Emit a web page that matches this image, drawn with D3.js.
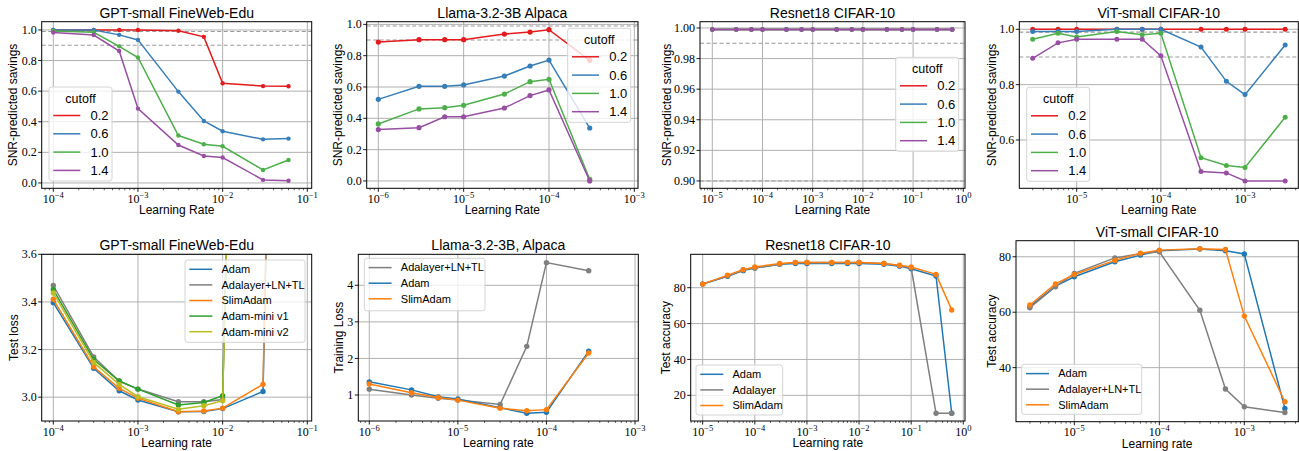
<!DOCTYPE html>
<html>
<head>
<meta charset="utf-8">
<script src="https://cdn.jsdelivr.net/npm/d3@7"></script>
<style>
  body { margin: 0; background: #fff; }
  svg { display: block; }
  .sans { font-family: "Liberation Sans", Arial, sans-serif; }
  .serif { font-family: "Liberation Serif", "Times New Roman", serif; }
</style>
</head>
<body>
<svg id="chart" width="1299" height="451"></svg>
<script>
// ---- data ----
const cutoffs = ["0.2", "0.6", "1.0", "1.4"];
const set1 = ["#e41a1c", "#377eb8", "#4daf4a", "#984ea3"];

const gptLR = [1e-4, 3e-4, 6e-4, 1e-3, 3e-3, 6e-3, 1e-2, 3e-2, 6e-2];
const gptSnr = [
  [1.0, 1.0, 1.0, 1.0, 0.995, 0.955, 0.652, 0.633, 0.632],
  [1.0, 1.0, 0.968, 0.935, 0.597, 0.405, 0.338, 0.285, 0.29],
  [0.993, 0.985, 0.893, 0.82, 0.31, 0.253, 0.24, 0.085, 0.15],
  [0.983, 0.967, 0.862, 0.486, 0.248, 0.176, 0.166, 0.02, 0.014]
];

const llamaLR = [1e-6, 3e-6, 6e-6, 1e-5, 3e-5, 6e-5, 1e-4, 3e-4];
const llamaSnr = [
  [0.887, 0.902, 0.902, 0.902, 0.938, 0.951, 0.966, 0.77],
  [0.521, 0.604, 0.604, 0.613, 0.67, 0.734, 0.772, 0.338],
  [0.364, 0.46, 0.468, 0.483, 0.555, 0.634, 0.649, 0.01],
  [0.328, 0.34, 0.41, 0.41, 0.466, 0.545, 0.581, 0.0]
];

const resnetLR = [1e-5, 3e-5, 6e-5, 1e-4, 3e-4, 6e-4, 1e-3, 3e-3, 6e-3, 1e-2, 3e-2, 6e-2, 1e-1, 3e-1, 6e-1];
const resnetSnr = [
  [0.999, 0.999, 0.999, 0.999, 0.999, 0.999, 0.999, 0.999, 0.999, 0.999, 0.999, 0.999, 0.999, 0.999, 0.999],
  [0.999, 0.999, 0.999, 0.999, 0.999, 0.999, 0.999, 0.999, 0.999, 0.999, 0.999, 0.999, 0.999, 0.999, 0.999],
  [0.999, 0.999, 0.999, 0.999, 0.999, 0.999, 0.999, 0.999, 0.999, 0.999, 0.999, 0.999, 0.999, 0.999, 0.999],
  [0.999, 0.999, 0.999, 0.999, 0.999, 0.999, 0.999, 0.999, 0.999, 0.999, 0.999, 0.999, 0.999, 0.999, 0.999]
];

const vitLR = [3e-6, 6e-6, 1e-5, 3e-5, 6e-5, 1e-4, 3e-4, 6e-4, 1e-3, 3e-3];
const vitSnr = [
  [1.0, 1.0, 1.0, 1.0, 1.0, 1.0, 1.0, 1.0, 1.0, 1.0],
  [0.992, 0.992, 0.992, 1.0, 1.0, 1.0, 0.936, 0.812, 0.764, 0.943],
  [0.964, 0.986, 0.972, 0.992, 0.98, 0.986, 0.536, 0.508, 0.501, 0.682],
  [0.895, 0.951, 0.964, 0.964, 0.964, 0.904, 0.486, 0.481, 0.452, 0.452]
];

// bottom row
const gptOpt = ["Adam", "Adalayer+LN+TL", "SlimAdam", "Adam-mini v1", "Adam-mini v2"];
const gptOptColors = ["#1f77b4", "#7f7f7f", "#ff7f0e", "#2ca02c", "#bcbd22"];
const gptLoss = [
  [3.397, 3.121, 3.027, 2.988, 2.939, 2.940, 2.952, 3.024, 8.0],
  [3.469, 3.169, 3.068, 3.034, 2.981, 2.981, 2.99, 10.0],
  [3.411, 3.128, 3.037, 2.996, 2.939, 2.942, 2.954, 3.054, 8.2],
  [3.452, 3.158, 3.068, 3.034, 2.967, 2.978, 3.006, 10.0],
  [3.438, 3.146, 3.054, 3.002, 2.949, 2.964, 2.985, 10.0]
];

const llamaOpt = ["Adalayer+LN+TL", "Adam", "SlimAdam"];
const llamaOptColors = ["#7f7f7f", "#1f77b4", "#ff7f0e"];
const llamaLoss = [
  [1.16, 1.0, 0.91, 0.86, 0.74, 2.33, 4.62, 4.4],
  [1.36, 1.14, 0.95, 0.89, 0.65, 0.5, 0.53, 2.2],
  [1.30, 1.06, 0.93, 0.86, 0.64, 0.57, 0.6, 2.15]
];

const resnetOpt = ["Adam", "Adalayer", "SlimAdam"];
const resnetOptColors = ["#1f77b4", "#7f7f7f", "#ff7f0e"];
const resnetAcc = [
  [82, 86.3, 89.5, 91, 93, 93.5, 93.5, 93.5, 93.5, 93.5, 93, 92, 90.5, 86.5, 10],
  [82, 86.5, 90, 91, 93, 94, 94, 94, 94, 94, 93.5, 92.2, 91.1, 10, 10],
  [82, 87, 90, 91.5, 93.5, 94, 94, 94, 94, 94, 93.5, 92.5, 91.5, 87.4, 67.6]
];

const vitOpt = ["Adam", "Adalayer+LN+TL", "SlimAdam"];
const vitOptColors = ["#1f77b4", "#7f7f7f", "#ff7f0e"];
const vitAcc = [
  [62.0, 69.4, 72.8, 78.2, 80.6, 82.2, 82.8, 82.2, 81.0, 25.3],
  [61.6, 69.2, 74.0, 79.6, 81.1, 81.8, 60.7, 32.3, 25.9, 23.8],
  [62.6, 70.2, 73.6, 78.7, 81.3, 82.4, 82.9, 82.6, 58.6, 27.7]
];

// ---- panel layout ----
const topLeg = { titleY: 11.5, y0: 28.5, dy: 18.3, lx: 4.3, len: 27, tx: 41.5, fs: 13, w: 63, h: 94 };
const botLeg = { y0: 9.3, dy: 15.6, lx: 4.3, len: 23, tx: 36.5, fs: 11 };

const panels = [
  { frame: [41.7, 21.7, 311.7, 188.3], xd: [-4.137, -0.948], yd: [-0.035, 1.054],
    yt: [0, 0.2, 0.4, 0.6, 0.8, 1.0], yf: ".1f", title: "GPT-small FineWeb-Edu",
    xl: "Learning Rate", yl: "SNR-predicted savings", ylx: 13.8,
    lr: gptLR, ys: gptSnr, names: cutoffs, colors: set1, dashed: [0.99, 0.9], r: 2.2,
    leg: Object.assign({}, topLeg, { x: 49, y: 87, title: "cutoff" }) },
  { frame: [366.7, 21.7, 638, 188.3], xd: [-6.136, -2.957], yd: [-0.047, 1.017],
    yt: [0, 0.2, 0.4, 0.6, 0.8, 1.0], yf: ".1f", title: "Llama-3.2-3B Alpaca",
    xl: "Learning Rate", yl: "SNR-predicted savings", ylx: 338.8,
    lr: llamaLR, ys: llamaSnr, names: cutoffs, colors: set1, dashed: [0.99, 0.9], r: 2.6,
    leg: Object.assign({}, topLeg, { x: 567.7, y: 28.3, title: "cutoff" }) },
  { frame: [700, 21.7, 965, 188.3], xd: [-5.245, 0.034], yd: [0.8952, 1.0041],
    yt: [0.90, 0.92, 0.94, 0.96, 0.98, 1.00], yf: ".2f", title: "Resnet18 CIFAR-10",
    xl: "Learning Rate", yl: "SNR-predicted savings", ylx: 667.5,
    lr: resnetLR, ys: resnetSnr, names: cutoffs, colors: set1, dashed: [0.99, 0.9], r: 2.3,
    leg: Object.assign({}, topLeg, { x: 895.7, y: 57.3, title: "cutoff" }) },
  { frame: [1019.3, 21.7, 1298.3, 188.3], xd: [-5.682, -2.367], yd: [0.4254, 1.0275],
    yt: [0.6, 0.8, 1.0], yf: ".1f", title: "ViT-small CIFAR-10",
    xl: "Learning Rate", yl: "SNR-predicted savings", ylx: 992.5,
    lr: vitLR, ys: vitSnr, names: cutoffs, colors: set1, dashed: [0.99, 0.9], r: 2.5,
    leg: Object.assign({}, topLeg, { x: 1026.7, y: 87.3, title: "cutoff" }) },
  { frame: [41.7, 254.3, 311.7, 421], xd: [-4.137, -0.948], yd: [2.9, 3.6],
    yt: [3.0, 3.2, 3.4, 3.6], yf: ".1f", title: "GPT-small FineWeb-Edu",
    xl: "Learning rate", yl: "Test loss", ylx: 14.5,
    lr: gptLR, ys: gptLoss, names: gptOpt, colors: gptOptColors, dashed: [], r: 2.7,
    leg: Object.assign({}, botLeg, { x: 185, y: 260, w: 120, h: 82.3 }) },
  { frame: [358.3, 254.3, 638.3, 421], xd: [-6.124, -2.963], yd: [0.289, 4.848],
    yt: [1, 2, 3, 4], yf: "d", title: "Llama-3.2-3B, Alpaca",
    xl: "Learning rate", yl: "Training Loss", ylx: 339.5,
    lr: llamaLR, ys: llamaLoss, names: llamaOpt, colors: llamaOptColors, dashed: [], r: 2.7,
    leg: Object.assign({}, botLeg, { x: 364.3, y: 258.3, w: 120.7, h: 52.5 }) },
  { frame: [690.7, 254.3, 965, 421], xd: [-5.23, 0.033], yd: [5.7, 98.6],
    yt: [20, 40, 60, 80], yf: "d", title: "Resnet18 CIFAR-10",
    xl: "Learning rate", yl: "Test accuracy", ylx: 666.7,
    lr: resnetLR, ys: resnetAcc, names: resnetOpt, colors: resnetOptColors, dashed: [], r: 2.7,
    leg: Object.assign({}, botLeg, { x: 696, y: 365, w: 86.7, h: 50 }) },
  { frame: [1016, 240.7, 1298.3, 421.7], xd: [-5.686, -2.365], yd: [20.5, 85.8],
    yt: [40, 60, 80], yf: "d", title: "ViT-small CIFAR-10",
    xl: "Learning rate", yl: "Test accuracy", ylx: 992.7,
    lr: vitLR, ys: vitAcc, names: vitOpt, colors: vitOptColors, dashed: [], r: 2.7,
    leg: Object.assign({}, botLeg, { x: 1021.7, y: 364.3, w: 120, h: 50 }) }
];

const svg = d3.select("#chart");

panels.forEach((p, pi) => {
  const [L, T, R, B] = p.frame;
  const x = d3.scaleLog().domain([Math.pow(10, p.xd[0]), Math.pow(10, p.xd[1])]).range([L, R]);
  const y = d3.scaleLinear().domain(p.yd).range([B, T]);
  const g = svg.append("g");

  const clipId = "clip" + pi;
  svg.append("clipPath").attr("id", clipId)
    .append("rect").attr("x", L).attr("y", T).attr("width", R - L).attr("height", B - T);

  // decades & minor ticks
  const majors = [], minors = [];
  for (let e = Math.floor(p.xd[0]); e <= Math.ceil(p.xd[1]); e++) {
    if (e >= p.xd[0] && e <= p.xd[1]) majors.push(e);
    for (let k = 2; k <= 9; k++) {
      const lv = e + Math.log10(k);
      if (lv >= p.xd[0] && lv <= p.xd[1]) minors.push(Math.pow(10, lv));
    }
  }

  // grid
  const grid = g.append("g").attr("stroke", "#b0b0b0").attr("stroke-width", 1);
  majors.forEach(e => {
    const px = x(Math.pow(10, e));
    grid.append("line").attr("x1", px).attr("x2", px).attr("y1", T).attr("y2", B);
  });
  p.yt.forEach(v => {
    grid.append("line").attr("x1", L).attr("x2", R).attr("y1", y(v)).attr("y2", y(v));
  });

  // dashed reference lines
  p.dashed.forEach(v => {
    g.append("line").attr("x1", L).attr("x2", R).attr("y1", y(v)).attr("y2", y(v))
      .attr("stroke", "#999").attr("stroke-width", 1.1).attr("stroke-dasharray", "4,2.5");
  });

  // series
  const plot = g.append("g").attr("clip-path", `url(#${clipId})`);
  const line = d3.line().x(d => x(d[0])).y(d => y(d[1]));
  p.ys.forEach((vals, si) => {
    const pts = vals.map((v, i) => [p.lr[i], v]);
    const col = p.colors[si];
    plot.append("path").datum(pts).attr("d", line)
      .attr("fill", "none").attr("stroke", col).attr("stroke-width", 1.5);
    plot.selectAll(null).data(pts).enter().append("circle")
      .attr("cx", d => x(d[0])).attr("cy", d => y(d[1])).attr("r", p.r).attr("fill", col);
  });

  // legend
  const lg = p.leg;
  const lgG = g.append("g").attr("transform", `translate(${lg.x},${lg.y})`);
  lgG.append("rect").attr("width", lg.w).attr("height", lg.h).attr("rx", 2.5)
    .attr("fill", "#fff").attr("fill-opacity", 0.8).attr("stroke", "#d4d4d4").attr("stroke-width", 1);
  if (lg.title) {
    lgG.append("text").attr("class", "sans").attr("x", lg.w / 2).attr("y", lg.titleY)
      .attr("dy", "0.35em").attr("text-anchor", "middle").attr("font-size", 12.5).text(lg.title);
  }
  p.names.forEach((n, i) => {
    const yy = lg.y0 + i * lg.dy;
    lgG.append("line").attr("x1", lg.lx).attr("x2", lg.lx + lg.len).attr("y1", yy).attr("y2", yy)
      .attr("stroke", p.colors[i]).attr("stroke-width", 1.5);
    lgG.append("text").attr("class", "sans").attr("x", lg.tx).attr("y", yy).attr("dy", "0.35em")
      .attr("font-size", lg.fs).text(n);
  });

  // frame
  g.append("rect").attr("x", L).attr("y", T).attr("width", R - L).attr("height", B - T)
    .attr("fill", "none").attr("stroke", "#000").attr("stroke-width", 1);

  // ticks
  const tk = g.append("g").attr("stroke", "#000");
  majors.forEach(e => {
    const px = x(Math.pow(10, e));
    tk.append("line").attr("x1", px).attr("x2", px).attr("y1", B).attr("y2", B + 3.5).attr("stroke-width", 0.9);
    const t = g.append("text").attr("class", "serif").attr("x", px).attr("y", B + 14.5)
      .attr("text-anchor", "middle").attr("font-size", 12);
    t.append("tspan").text("10");
    t.append("tspan").attr("dy", -5).attr("font-size", 8.5).text(e < 0 ? "\u2212" + (-e) : String(e));
  });
  minors.forEach(v => {
    const px = x(v);
    tk.append("line").attr("x1", px).attr("x2", px).attr("y1", B).attr("y2", B + 2).attr("stroke-width", 0.6);
  });
  const fmt = d3.format(p.yf);
  p.yt.forEach(v => {
    tk.append("line").attr("x1", L - 3.5).attr("x2", L).attr("y1", y(v)).attr("y2", y(v)).attr("stroke-width", 0.9);
    g.append("text").attr("class", "serif").attr("x", L - 5).attr("y", y(v)).attr("dy", "0.34em")
      .attr("text-anchor", "end").attr("font-size", 12).text(fmt(v));
  });

  // labels & title
  g.append("text").attr("class", "sans").attr("x", (L + R) / 2).attr("y", T - 4)
    .attr("text-anchor", "middle").attr("font-size", 14).text(p.title);
  g.append("text").attr("class", "sans").attr("x", (L + R) / 2).attr("y", B + 26)
    .attr("text-anchor", "middle").attr("font-size", 12).text(p.xl);
  g.append("text").attr("class", "sans")
    .attr("transform", `translate(${p.ylx},${(T + B) / 2}) rotate(-90)`)
    .attr("dy", "0.3em").attr("text-anchor", "middle").attr("font-size", 12).text(p.yl);
});
</script>
</body>
</html>
